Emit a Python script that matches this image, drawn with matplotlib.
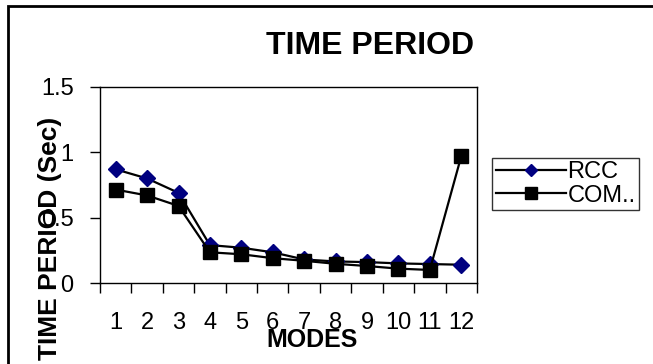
import matplotlib.pyplot as plt
from matplotlib.patches import Rectangle

modes = ["1", "2", "3", "4", "5", "6", "7", "8", "9", "10", "11", "12"]
rcc = [0.87, 0.80, 0.69, 0.29, 0.27, 0.235, 0.18, 0.165, 0.16, 0.15, 0.145, 0.14]
com = [0.715, 0.67, 0.59, 0.235, 0.22, 0.19, 0.17, 0.147, 0.13, 0.11, 0.10, 0.97]
yticks = [0, 0.5, 1, 1.5]
yticklabels = ["0", "0.5", "1", "1.5"]


def plot_time_period():
    plt.rcParams["font.family"] = ["Liberation Sans", "DejaVu Sans"]
    fig = plt.figure(figsize=(6.53, 3.64), dpi=100)
    ax = fig.add_axes([0.1531, 0.2225, 0.5773, 0.5385])

    x = list(range(1, len(modes) + 1))
    ax.plot(x, rcc, color="black", lw=1.6, marker="D", markersize=8,
            markerfacecolor="#000080", markeredgecolor="#000080", label="RCC")
    ax.plot(x, com, color="black", lw=1.6, marker="s", markersize=10,
            markerfacecolor="black", markeredgecolor="black", label="COM..")

    ax.set_xlim(0.5, len(modes) + 0.5)
    ax.set_ylim(0, 1.5)
    ax.set_yticks(yticks)
    ax.set_yticklabels(yticklabels, fontsize=17)
    ax.set_xticks([i + 0.5 for i in range(0, len(modes) + 1)])
    ax.set_xticklabels([])
    ax.set_xticks(x, minor=True)
    ax.set_xticklabels(modes, minor=True, fontsize=17)
    ax.tick_params(axis="x", which="major", direction="out", length=7, width=1)
    ax.tick_params(axis="x", which="minor", length=0, pad=21)
    ax.tick_params(axis="y", direction="out", length=7, width=1, pad=12)
    for s in ax.spines.values():
        s.set_linewidth(1)

    fig.text(0.567, 0.875, "TIME PERIOD", fontsize=23, fontweight="bold",
             ha="center", va="center")
    fig.text(0.478, 0.066, "MODES", fontsize=18, fontweight="bold",
             ha="center", va="center")
    fig.text(0.077, 0.345, "TIME PERIOD (Sec)", fontsize=19, fontweight="bold",
             ha="center", va="center", rotation=90)

    leg = ax.legend(loc="upper left", bbox_to_anchor=(1.04, 0.638), fontsize=17,
                    frameon=True, fancybox=False, edgecolor="black",
                    handlelength=3.0, borderpad=0.15, labelspacing=0.05,
                    handletextpad=0.05, borderaxespad=0, markerscale=0.8)
    leg.get_frame().set_linewidth(1)

    fig.patches.append(Rectangle((8 / 653, -0.1), 1.2, 1.1 - 6 / 364,
                                 transform=fig.transFigure, fill=False,
                                 edgecolor="black", lw=2))
    fig.savefig("out.png", dpi=100)


def main():
    plot_time_period()


if __name__ == "__main__":
    main()
